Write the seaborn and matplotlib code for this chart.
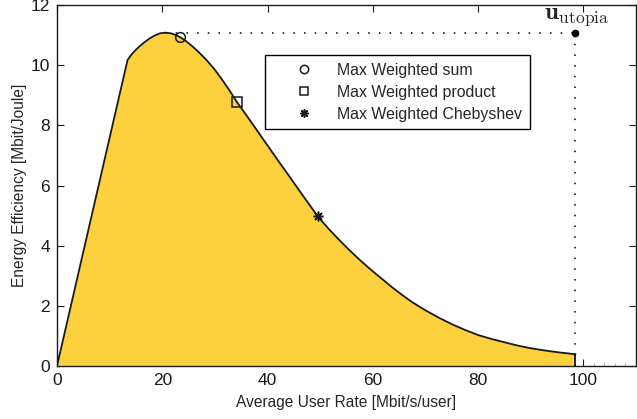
import matplotlib
matplotlib.use("Agg")
import matplotlib.pyplot as plt
from matplotlib.ticker import MultipleLocator
import seaborn as sns
import pandas as pd

# Pareto boundary
rate = [0, 13.4, 14.0, 14.8, 15.7, 16.6, 17.6, 18.6, 19.6, 20.6, 21.6, 22.5,
        23.4, 24.5, 25.7, 27.0, 28.4, 29.8, 31.2, 32.7, 34.2, 36.0, 38.0,
        40.0, 42.0, 44.0, 46.0, 47.8, 49.5, 51.5, 53.5, 55.5, 57.5, 59.5,
        61.5, 63.5, 65.5, 67.5, 70.0, 72.5, 75.0, 77.5, 80.0, 82.5, 85.0,
        87.5, 90.0, 92.5, 95.0, 98.5]
ee = [0, 10.17, 10.32, 10.48, 10.63, 10.76, 10.89, 10.99, 11.06, 11.08, 11.06, 11.01,
      10.93, 10.80, 10.63, 10.42, 10.17, 9.89, 9.56, 9.18, 8.77, 8.33, 7.83,
      7.33, 6.83, 6.34, 5.84, 5.40, 4.98, 4.58, 4.21, 3.86, 3.53, 3.22,
      2.93, 2.64, 2.37, 2.12, 1.85, 1.61, 1.39, 1.20, 1.03, 0.90, 0.79,
      0.68, 0.59, 0.52, 0.46, 0.39]

# operating points
point_names = ["Max Weighted sum", "Max Weighted product", "Max Weighted Chebyshev"]
point_rate = [23.4, 34.2, 49.5]
point_ee = [10.93, 8.77, 4.98]
point_markers = ["o", "s", (8, 2, 0)]

utopia = (98.5, 11.08)

df = pd.DataFrame({"rate": rate, "ee": ee})

sns.set_style("ticks")
plt.rcParams["font.family"] = ["Liberation Sans", "DejaVu Sans"]
plt.rcParams["mathtext.fontset"] = "cm"

fig, ax = plt.subplots(figsize=(6.37, 4.19), dpi=100)
fig.subplots_adjust(left=57 / 637, right=636 / 637, top=1 - 5 / 419, bottom=1 - 366 / 419)

ax.fill_between(df["rate"], df["ee"], color="#FDD13D", lw=0, zorder=1)
sns.lineplot(data=df, x="rate", y="ee", sort=False, color="#1a1a1a", lw=1.3, ax=ax, zorder=3)
ax.plot([rate[-1], rate[-1]], [ee[-1], 0], color="#1a1a1a", lw=1.3, zorder=3)

# utopia point and dotted guides
ax.plot([rate[ee.index(max(ee))], utopia[0]], [utopia[1], utopia[1]], ls=(0, (1, 6)),
        color="black", lw=1.1, zorder=2)
ax.plot([utopia[0], utopia[0]], [utopia[1], 0], ls=(0, (1, 6)), color="black", lw=1.1, zorder=2)
ax.plot(utopia[0], utopia[1], "o", color="black", ms=4.5, zorder=5)
ax.text(utopia[0] + 0.2, 11.25, r"$\mathbf{u}_{\mathrm{utopia}}$",
        ha="center", va="bottom", fontsize=18)

for name, x, y, m in zip(point_names, point_rate, point_ee, point_markers):
    ax.plot(x, y, ls="none", marker=m, ms=7 if m != "s" else 6.5, mfc="none",
            mec="#1a1a1a", mew=1.1, label=name, zorder=6)

ax.set_xlim(0, 110)
ax.set_ylim(0, 12)
ax.xaxis.set_major_locator(MultipleLocator(20))
ax.yaxis.set_major_locator(MultipleLocator(2))
ax.xaxis.set_minor_locator(MultipleLocator(2))
ax.tick_params(which="major", direction="in", top=True, right=True, length=5,
               width=0.8, labelsize=12.5, colors="#1a1a1a", pad=5)
ax.tick_params(axis="x", which="minor", direction="in", top=False, length=2,
               width=0.5, color="#999999")
ax.tick_params(axis="y", which="minor", left=False, right=False)
for s in ax.spines.values():
    s.set_linewidth(1.0)
    s.set_color("#1a1a1a")
    s.set_zorder(10)

ax.set_xlabel("Average User Rate [Mbit/s/user]", fontsize=11.2, labelpad=5)
ax.set_ylabel("Energy Efficiency [Mbit/Joule]", fontsize=11.2, labelpad=3)

leg = ax.legend(loc="upper left", bbox_to_anchor=(0.359, 0.861), borderaxespad=0,
                fontsize=11.4, frameon=True, fancybox=False, framealpha=1,
                edgecolor="black", handletextpad=0.1, borderpad=0.47,
                labelspacing=0.45, handlelength=4.0)
leg.get_frame().set_linewidth(1.0)
for h in leg.legend_handles:
    h.set_markersize(6)

fig.savefig("out.png", dpi=100)
